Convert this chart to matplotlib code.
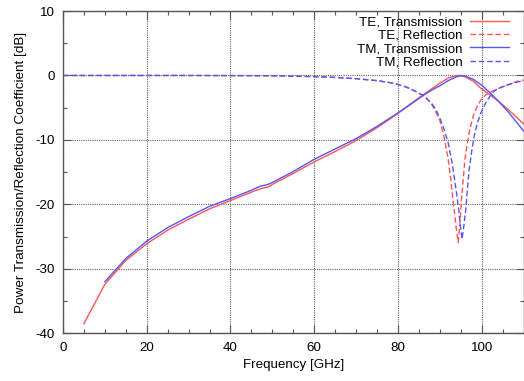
import matplotlib
matplotlib.use("Agg")
import matplotlib.pyplot as plt
from matplotlib.ticker import MultipleLocator

plt.rcParams['font.family'] = ['Liberation Sans', 'DejaVu Sans']
plt.rcParams['axes.unicode_minus'] = False

# TE transmission [dB]
freq_te_t = [5, 10, 15, 20, 25, 30, 35, 40, 45, 47, 49, 50, 55, 60, 65, 70,
             75, 80, 83, 86, 88, 90, 92, 94, 96, 98, 100, 102, 104, 106, 108, 110]
te_trans = [-38.5, -32.4, -28.7, -26.1, -24.0, -22.3, -20.7, -19.4, -18.1, -17.6,
            -17.3, -16.9, -15.2, -13.4, -11.8, -10.1, -8.1, -5.9, -4.4, -3.0,
            -2.1, -1.2, -0.4, 0.0, -0.2, -0.9, -2.1, -3.0, -4.0, -5.1, -6.3, -7.5]

# TM transmission [dB]
freq_tm_t = [10, 15, 20, 25, 30, 35, 40, 45, 47, 49, 50, 55, 60, 65, 70, 75,
             80, 83, 86, 88, 90, 92, 94, 95, 96, 98, 100, 102, 104, 106, 108, 110]
tm_trans = [-32.0, -28.4, -25.7, -23.6, -21.9, -20.3, -19.1, -17.8, -17.2, -16.9,
            -16.6, -14.9, -13.0, -11.4, -9.8, -7.9, -5.8, -4.5, -3.1, -2.3,
            -1.6, -0.8, -0.2, 0.0, -0.1, -0.6, -1.5, -2.7, -4.0, -5.4, -7.0, -8.6]

# TE reflection [dB]
freq_te_r = [0, 10, 20, 30, 40, 50, 55, 60, 65, 70, 75, 78, 80, 82, 84, 86, 87,
             88, 89, 90, 91, 92, 92.5, 93, 93.5, 94, 94.4, 94.8, 95.2, 95.6, 96,
             96.6, 97.2, 98.2, 99, 100, 101, 102, 103, 104, 106, 108, 110]
te_refl = [0, 0, 0, 0, -0.02, -0.05, -0.1, -0.18, -0.3, -0.5, -0.8, -1.1, -1.4,
           -1.8, -2.4, -3.1, -3.6, -4.4, -5.6, -7.0, -9.5, -13.0, -15.5, -18.5,
           -21.3, -24.2, -25.9, -23.0, -19.0, -16.0, -13.0, -10.4, -8.2, -5.8,
           -4.7, -3.6, -3.0, -2.6, -2.3, -2.0, -1.5, -1.0, -0.7]

# TM reflection [dB]
freq_tm_r = [0, 10, 20, 30, 40, 50, 55, 60, 65, 70, 75, 78, 80, 82, 84, 86, 87,
             88, 89, 90, 91, 92, 93, 94, 94.5, 95, 95.3, 95.7, 96.2, 96.6, 97,
             97.6, 98.2, 99, 99.8, 101, 102, 103, 104, 106, 108, 110]
tm_refl = [0, 0, 0, 0, -0.02, -0.05, -0.1, -0.18, -0.3, -0.5, -0.8, -1.1, -1.4,
           -1.8, -2.4, -3.1, -3.7, -4.3, -5.2, -6.6, -8.3, -10.5, -13.8, -18.3,
           -20.8, -23.8, -25.4, -23.5, -20.8, -17.5, -14.6, -11.8, -9.4, -7.3,
           -5.8, -4.2, -3.2, -2.4, -2.0, -1.5, -1.1, -0.8]

red = '#ff5555'
blue = '#5555ff'
dash = (4, 2)

fig = plt.figure(figsize=(5.24, 3.81), dpi=100)
ax = fig.add_axes([0.1202, 0.1252, 0.8790, 0.8459])

ax.plot(freq_te_t, te_trans, color=red, lw=1.0, label='TE, Transmission')
ax.plot(freq_te_r, te_refl, color=red, lw=1.0, dashes=dash, label='TE, Reflection')
ax.plot(freq_tm_t, tm_trans, color=blue, lw=1.0, label='TM, Transmission')
ax.plot(freq_tm_r, tm_refl, color=blue, lw=1.0, dashes=dash, label='TM, Reflection')

ax.set_xlim(0, 110)
ax.set_ylim(-40, 10)
ax.xaxis.set_major_locator(MultipleLocator(20))
ax.xaxis.set_minor_locator(MultipleLocator(5))
ax.yaxis.set_major_locator(MultipleLocator(10))
ax.yaxis.set_minor_locator(MultipleLocator(5))

ax.grid(True, which='major', color='#606060', lw=0.8, linestyle=(0, (1, 1)))
ax.set_axisbelow(True)
ax.tick_params(which='both', direction='in', top=True, right=True,
               color='#555555', labelsize=9.6, pad=6)
ax.tick_params(which='major', length=6, width=0.8)
ax.tick_params(which='minor', length=3, width=0.8)
for s in ax.spines.values():
    s.set_color('#555555')
    s.set_linewidth(1.0)

ax.set_xlabel('Frequency [GHz]', fontsize=9.6, labelpad=4)
ax.set_ylabel('Power Transmission/Reflection Coefficient [dB]', fontsize=9.7, labelpad=6)

ax.legend(loc='upper right', bbox_to_anchor=(0.974, 0.992), frameon=False,
          markerfirst=False, fontsize=9.6, handlelength=2.9, handletextpad=0.6,
          labelspacing=0.07, borderaxespad=0.0, borderpad=0.2)

fig.savefig('out.png', dpi=100)
